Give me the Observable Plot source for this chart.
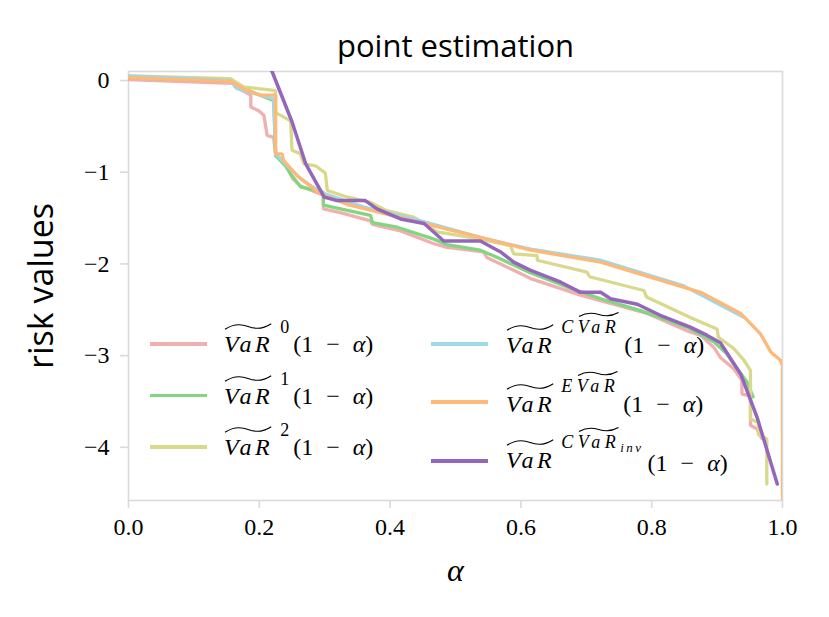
<!DOCTYPE html>
<html><head><meta charset="utf-8">
<script src="https://cdn.jsdelivr.net/npm/d3@7"></script>
<script src="https://cdn.jsdelivr.net/npm/@observablehq/plot@0.6"></script>
<style>
body{margin:0;background:#fff;}
#wrap{position:relative;width:829px;height:617px;overflow:hidden;}
.row{position:absolute;font-family:"Liberation Serif","Times New Roman",serif;font-size:24px;color:#000;white-space:nowrap;line-height:1;}
.sw{position:absolute;height:3.5px;width:57px;}
.acc{font-style:italic;letter-spacing:3.5px;position:relative;display:inline-block;}
.til{position:absolute;left:1px;top:-9px;width:calc(100% - 3px);height:7px;overflow:visible;}
.til path{fill:none;stroke:#000;stroke-width:1.2;vector-effect:non-scaling-stroke;}
.sup{font-size:18px;position:relative;display:inline-block;}
.sup .acc{letter-spacing:4.5px;}
.sup .til{top:-6px;height:5px;}
.ci{font-style:italic;letter-spacing:4.5px;}
.sub{font-size:13px;font-style:italic;position:relative;top:4px;letter-spacing:2.5px;}
.arg{position:relative;display:inline-block;margin-left:4px;}
.op{margin:0 13px;}
</style></head>
<body><div id="wrap"></div>
<script>
// ---- data (alpha, risk value) ----
const alphaTicks = [0, 0.2, 0.4, 0.6, 0.8, 1.0];
const riskTicks = [0, -1, -2, -3, -4];
const seriesNames = ["VaR0", "VaR1", "VaR2", "VaRCVaR", "VaREVaR", "VaRCVaRinv"];
const seriesColors = ["#f2afaf", "#82d67f", "#d8d98a", "#9fd8e6", "#ffb877", "#9467bd"];

const var0 = [[0,0.01],[0.16,-0.03],[0.163,-0.07],[0.187,-0.16],[0.187,-0.29],[0.199,-0.33],[0.207,-0.38],[0.212,-0.60],[0.222,-0.62],[0.225,-0.82],[0.237,-0.87],[0.251,-1.07],[0.263,-1.15],[0.298,-1.25],[0.298,-1.40],[0.324,-1.44],[0.37,-1.53],[0.373,-1.57],[0.416,-1.64],[0.467,-1.78],[0.487,-1.82],[0.543,-1.87],[0.548,-1.93],[0.589,-2.07],[0.615,-2.16],[0.691,-2.34],[0.793,-2.54],[0.854,-2.73],[0.875,-2.78],[0.895,-2.91],[0.905,-3.02],[0.925,-3.14],[0.938,-3.27],[0.938,-3.42],[0.951,-3.44],[0.951,-3.76],[0.961,-3.80],[0.968,-3.90]];
const var1 = [[0,0.03],[0.16,-0.01],[0.17,-0.07],[0.222,-0.22],[0.225,-0.82],[0.24,-0.93],[0.25,-1.04],[0.263,-1.16],[0.298,-1.22],[0.298,-1.36],[0.37,-1.47],[0.373,-1.55],[0.411,-1.60],[0.467,-1.73],[0.487,-1.79],[0.538,-1.85],[0.564,-1.93],[0.615,-2.10],[0.67,-2.25],[0.722,-2.38],[0.783,-2.51],[0.854,-2.69],[0.895,-2.85],[0.915,-2.98],[0.925,-3.09],[0.946,-3.29],[0.955,-3.45]];
const var2 = [[0,0.05],[0.156,0.02],[0.176,-0.07],[0.225,-0.11],[0.225,-0.35],[0.248,-0.44],[0.25,-0.76],[0.263,-0.80],[0.268,-0.91],[0.286,-0.93],[0.301,-1.01],[0.304,-1.20],[0.334,-1.27],[0.37,-1.33],[0.395,-1.42],[0.436,-1.49],[0.472,-1.65],[0.538,-1.73],[0.584,-1.80],[0.589,-1.89],[0.625,-1.91],[0.625,-1.96],[0.701,-2.09],[0.705,-2.14],[0.788,-2.29],[0.792,-2.36],[0.864,-2.60],[0.9,-2.71],[0.902,-2.80],[0.925,-2.92],[0.941,-3.05],[0.951,-3.16],[0.951,-3.69],[0.963,-3.73],[0.963,-3.86],[0.976,-3.91],[0.976,-4.40]];
const varCVaR = [[0,0.05],[0.156,0.0],[0.166,-0.09],[0.222,-0.20],[0.225,-0.80],[0.243,-0.93],[0.263,-1.07],[0.294,-1.22],[0.36,-1.38],[0.436,-1.51],[0.538,-1.71],[0.615,-1.84],[0.722,-1.96],[0.849,-2.24],[0.94,-2.58]];
const varEVaR = [[0,0.03],[0.156,-0.01],[0.181,-0.11],[0.202,-0.16],[0.225,-0.16],[0.225,-0.80],[0.235,-0.80],[0.237,-0.87],[0.258,-1.04],[0.294,-1.24],[0.334,-1.35],[0.436,-1.53],[0.538,-1.71],[0.615,-1.85],[0.722,-1.98],[0.875,-2.31],[0.936,-2.54],[0.966,-2.76],[0.982,-2.96],[0.997,-3.05],[1.0,-3.11],[1.0,-6]];
const varCVaRinv = [[0.205,0.3],[0.22,0.09],[0.25,-0.45],[0.271,-0.91],[0.299,-1.27],[0.319,-1.31],[0.362,-1.31],[0.38,-1.40],[0.416,-1.51],[0.452,-1.56],[0.482,-1.75],[0.538,-1.75],[0.569,-1.87],[0.589,-1.98],[0.615,-2.07],[0.661,-2.2],[0.691,-2.31],[0.722,-2.31],[0.737,-2.38],[0.778,-2.44],[0.813,-2.56],[0.859,-2.69],[0.885,-2.78],[0.905,-2.86],[0.936,-3.2],[0.961,-3.67],[0.992,-4.40]];
const seriesData = [var0, var1, var2, varCVaR, varEVaR, varCVaRinv];

const minus = d => d < 0 ? "\u2212" + Math.abs(d) : String(d);

const lines = seriesData.map((s, i) => Plot.line(s, {
  x: d => d[0], y: d => d[1], stroke: seriesColors[i],
  strokeWidth: i === 5 ? 3.5 : 3.3, clip: true, strokeLinejoin: "miter"
}));

const plot = Plot.plot({
  width: 829, height: 617,
  marginLeft: 128, marginRight: 47, marginTop: 71, marginBottom: 117,
  x: {domain: [0, 1]},
  y: {domain: [-4.58, 0.098]},
  style: {fontFamily: "'Liberation Serif', 'Times New Roman', serif", fontSize: "24px", background: "white", color: "black"},
  marks: [
    Plot.frame({stroke: "#dadada", strokeWidth: 1.6}),
    Plot.axisX({ticks: alphaTicks, tickFormat: d => d.toFixed(1), tickSize: 8, tickPadding: 9, stroke: "#dadada", strokeWidth: 1.6, fill: "black", label: null, fontSize: 24}),
    Plot.axisY({ticks: riskTicks, tickFormat: minus, tickSize: 8, tickPadding: 11, stroke: "#dadada", strokeWidth: 1.6, fill: "black", label: null, fontSize: 24}),
    ...lines,
    Plot.text(["point estimation"], {frameAnchor: "top", dy: -37, text: d => d, fontFamily: "Open Sans", fontSize: 31, fill: "black"}),
    Plot.text(["risk values"], {frameAnchor: "left", dx: -86, rotate: -90, textAnchor: "middle", text: d => d, fontFamily: "Open Sans", fontSize: 34, fill: "black"}),
    Plot.text(["α"], {frameAnchor: "bottom", dy: 80, text: d => d, fontFamily: "'Liberation Serif', 'Times New Roman', serif", fontStyle: "italic", fontSize: 32, fill: "black"})
  ]
});

const wrap = document.getElementById("wrap");
wrap.appendChild(plot);

// ---- legend ----
const tilde = '<svg class="til" viewBox="0 0 100 10" preserveAspectRatio="none"><path d="M0,9 C18,1 34,1 50,5 C66,9 82,9 100,1"/></svg>';
const accVaR = () => `<span class="acc">VaR${tilde}</span>`;
const arg = off => `<span class="arg" style="top:${off}px">(1<span class="op">\u2212</span><i>\u03b1</i>)</span>`;
const legendSup = ["0", "1", "2",
  `<span class="ci">C</span>${accVaR()}`,
  `<span class="ci">E</span>${accVaR()}`,
  `<span class="ci">C</span>${accVaR()}<span class="sub">inv</span>`];
const legendCol = [0, 0, 0, 1, 1, 1];
const legendRow = [0, 1, 2, 0, 1, 2];
const colX = [[150, 224], [431, 506]];
const rowY = [[344, 395.5, 447], [344, 402, 461]];
const baseY = [[352, 403.5, 455], [353, 412, 468]];
const supRaise = [[19, 19, 19], [20, 20, 20]];
const supGap = [7, 6];
const argOff = [[0, 0, 0], [0, 0, 3]];

seriesNames.forEach((name, i) => {
  const c = legendCol[i], r = legendRow[i];
  const sw = document.createElement("div");
  sw.className = "sw";
  sw.style.left = colX[c][0] + "px";
  sw.style.top = (rowY[c][r] - 1.75) + "px";
  sw.style.background = seriesColors[i];
  wrap.appendChild(sw);
  const t = document.createElement("div");
  t.className = "row";
  t.style.left = colX[c][1] + "px";
  t.style.top = (baseY[c][r] - 20) + "px";
  t.innerHTML = accVaR() + `<span class="sup" style="top:-${supRaise[c][r]}px;margin-left:${supGap[c]}px">${legendSup[i]}</span>` + arg(argOff[c][r]);
  wrap.appendChild(t);
});
</script>
</body></html>
